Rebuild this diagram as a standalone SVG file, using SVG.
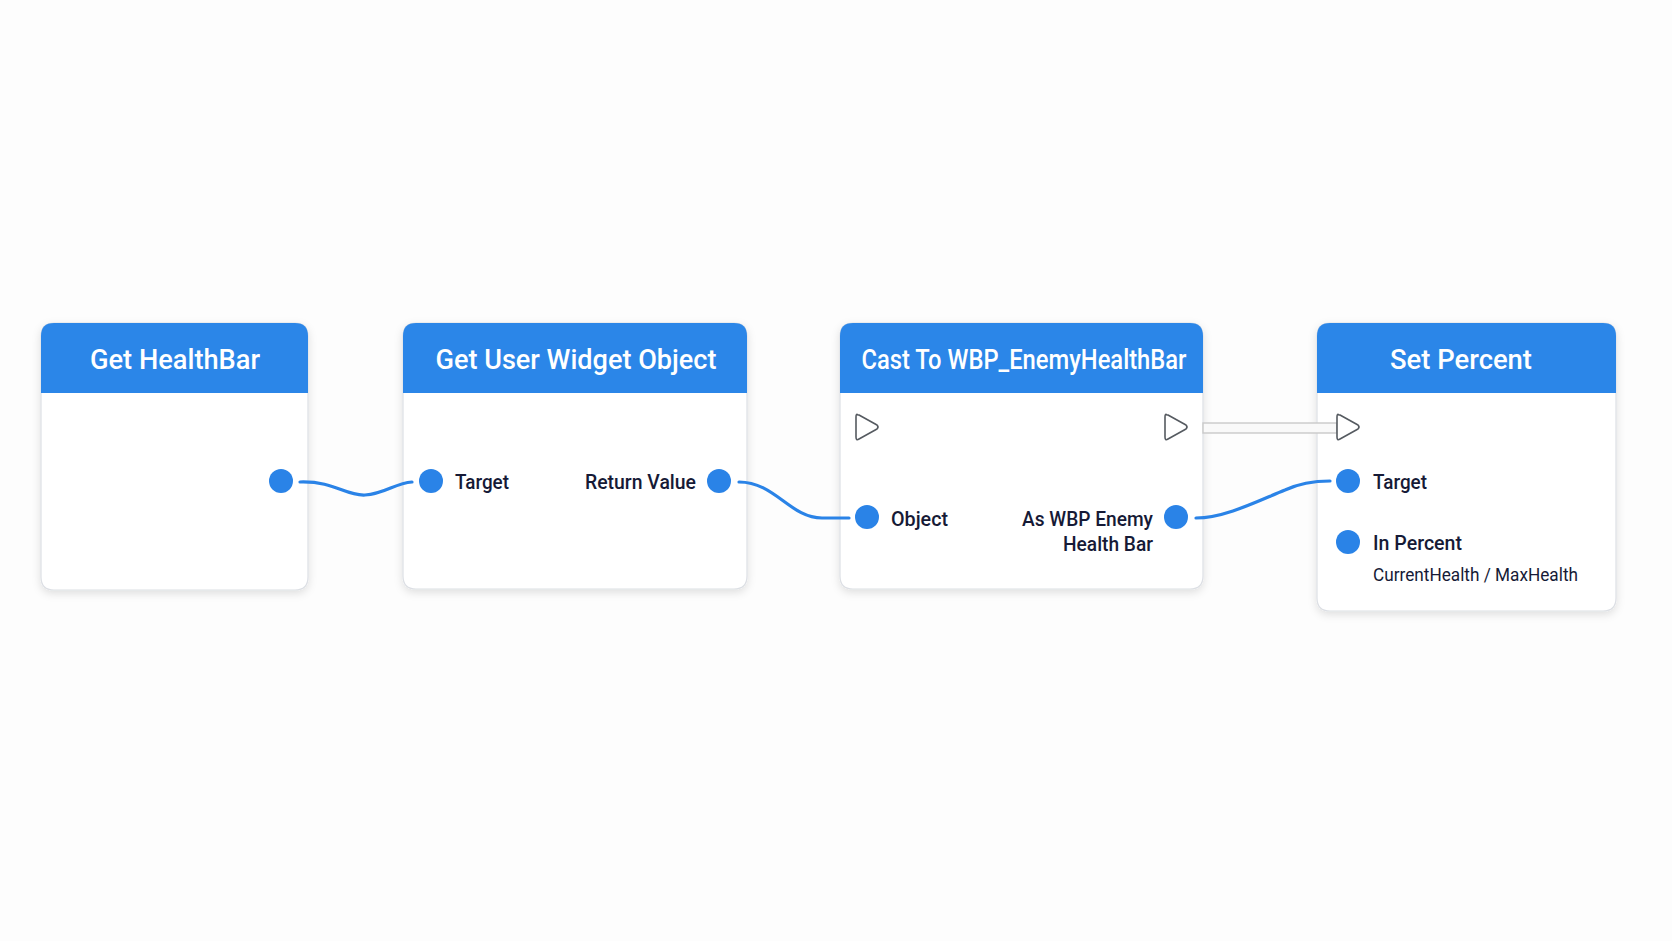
<svg xmlns="http://www.w3.org/2000/svg" width="1672" height="941" viewBox="0 0 1672 941">
  <defs>
    <filter id="shadow" x="-10%" y="-10%" width="120%" height="130%">
      <feDropShadow dx="0" dy="3" stdDeviation="4" flood-color="#000" flood-opacity="0.12"/>
    </filter>
    <style>
      .body { fill: #ffffff; stroke: #dcdfe4; stroke-width: 1.2; }
      .head { fill: #2b86e8; }
      .title { font-family: Roboto, "Liberation Sans", sans-serif; font-weight: 500; font-size: 28px; fill: #ffffff; text-anchor: middle; }
      .lbl { font-family: Roboto, "Liberation Sans", sans-serif; font-weight: 500; font-size: 20.5px; fill: #161a36; }
      .sub { font-family: Roboto, "Liberation Sans", sans-serif; font-weight: 400; font-size: 18px; fill: #161a36; }
      .pin { fill: #2a83e7; }
      .exec { fill: #ffffff; stroke: #555a60; stroke-width: 1.6; stroke-linejoin: round; }
      .wire { fill: none; stroke: #2a83e7; stroke-width: 3.2; stroke-linecap: round; }
    </style>
  </defs>
  <rect width="1672" height="941" fill="#fdfdfd"/>

  <g id="node-get-healthbar">
    <path class="body" filter="url(#shadow)" d="M54,323 H295 Q308,323 308,336 V577 Q308,590 295,590 H54 Q41,590 41,577 V336 Q41,323 54,323 Z"/>
    <path class="head" d="M54,323 H295 Q308,323 308,336 V393 H41 V336 Q41,323 54,323 Z"/>
    <text class="title" x="175" y="369" textLength="170" lengthAdjust="spacingAndGlyphs">Get HealthBar</text>
    <circle class="pin" cx="281" cy="481" r="12"/>
  </g>

  <g id="node-get-user-widget-object">
    <path class="body" filter="url(#shadow)" d="M416,323 H734 Q747,323 747,336 V576 Q747,589 734,589 H416 Q403,589 403,576 V336 Q403,323 416,323 Z"/>
    <path class="head" d="M416,323 H734 Q747,323 747,336 V393 H403 V336 Q403,323 416,323 Z"/>
    <text class="title" x="576" y="369" textLength="281" lengthAdjust="spacingAndGlyphs">Get User Widget Object</text>
    <circle class="pin" cx="431" cy="481" r="12"/>
    <text class="lbl" x="455" y="489" textLength="54" lengthAdjust="spacingAndGlyphs">Target</text>
    <text class="lbl" x="585" y="489" textLength="111" lengthAdjust="spacingAndGlyphs">Return Value</text>
    <circle class="pin" cx="719" cy="481" r="12"/>
  </g>

  <g id="node-cast-to-wbp">
    <path class="body" filter="url(#shadow)" d="M853,323 H1190 Q1203,323 1203,336 V576 Q1203,589 1190,589 H853 Q840,589 840,576 V336 Q840,323 853,323 Z"/>
    <path class="head" d="M853,323 H1190 Q1203,323 1203,336 V393 H840 V336 Q840,323 853,323 Z"/>
    <text class="title" x="1024" y="369" textLength="325" lengthAdjust="spacingAndGlyphs">Cast To WBP_EnemyHealthBar</text>
    <path class="exec" d="M858,415 Q856,413 856,417 V437 Q856,441 859,439 L877,429 Q879,427 877,425 L859,415 Z"/>
    <path class="exec" d="M1167,415 Q1165,413 1165,417 V437 Q1165,441 1168,439 L1186,429 Q1188,427 1186,425 L1168,415 Z"/>
    <circle class="pin" cx="867" cy="517" r="12"/>
    <text class="lbl" x="891" y="526" textLength="57" lengthAdjust="spacingAndGlyphs">Object</text>
    <text class="lbl" x="1022" y="526" textLength="131" lengthAdjust="spacingAndGlyphs">As WBP Enemy</text>
    <text class="lbl" x="1063" y="551" textLength="90" lengthAdjust="spacingAndGlyphs">Health Bar</text>
    <circle class="pin" cx="1176" cy="517" r="12"/>
  </g>

  <g id="node-set-percent">
    <path class="body" filter="url(#shadow)" d="M1330,323 H1603 Q1616,323 1616,336 V598 Q1616,611 1603,611 H1330 Q1317,611 1317,598 V336 Q1317,323 1330,323 Z"/>
    <path class="head" d="M1330,323 H1603 Q1616,323 1616,336 V393 H1317 V336 Q1317,323 1330,323 Z"/>
    <text class="title" x="1461" y="369" textLength="142" lengthAdjust="spacingAndGlyphs">Set Percent</text>
    <circle class="pin" cx="1348" cy="481" r="12"/>
    <text class="lbl" x="1373" y="489" textLength="54" lengthAdjust="spacingAndGlyphs">Target</text>
    <circle class="pin" cx="1348" cy="542" r="12"/>
    <text class="lbl" x="1373" y="550" textLength="89" lengthAdjust="spacingAndGlyphs">In Percent</text>
    <text class="sub" x="1373" y="581" textLength="205" lengthAdjust="spacingAndGlyphs">CurrentHealth / MaxHealth</text>
  </g>

  <g id="connectors">
    <path class="wire" d="M300,482 C335,481 345,496 365,495 C385,494 395,483 412,482"/>
    <path class="wire" d="M739,482 C775,482 790,518 822,518 L849,518"/>
    <path class="wire" d="M1196,518 C1225,518 1260,500 1285,490 C1300,483 1315,481 1330,481"/>
    <rect x="1203" y="423" width="134" height="10" fill="#f9f9f9" stroke="#c9c9c9" stroke-width="1.4"/>
    <path class="exec" d="M1339,415 Q1337,413 1337,417 V437 Q1337,441 1340,439 L1358,429 Q1360,427 1358,425 L1340,415 Z"/>
  </g>
</svg>
